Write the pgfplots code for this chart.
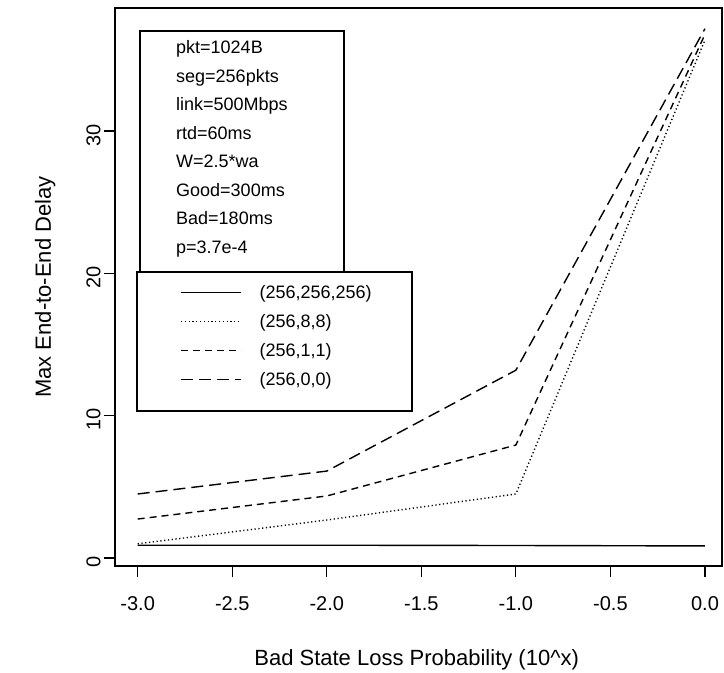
\documentclass[border=0pt]{standalone}
\usepackage{fontspec}
\setmainfont{Liberation Sans}
\usepackage{pgfplots}
\pgfplotsset{compat=1.18}
\begin{document}
\begin{tikzpicture}
\begin{axis}[
  at={(115pt,107pt)}, anchor=south west,
  width=607pt, height=558pt, scale only axis,
  xmin=-3.12, xmax=0.09, ymin=-0.56, ymax=38.65,
  axis line style={line width=1.2pt},
  xtick={-3,-2.5,-2,-1.5,-1,-0.5,0},
  xticklabels={-3.0,-2.5,-2.0,-1.5,-1.0,-0.5,0.0},
  ytick={0,10,20,30}, yticklabels={0,10,20,30},
  tick align=outside, major tick length=11pt,
  tick pos=left,
  tick style={line width=1.2pt, black},
  ticklabel style={font=\fontsize{20}{24}\selectfont},
  xticklabel style={anchor=north, yshift=-16pt},
  yticklabel style={rotate=90, anchor=south, xshift=-4pt},
  xlabel={Bad State Loss Probability (10\^{}x)},
  ylabel={Max End-to-End Delay},
  label style={font=\fontsize{22}{26}\selectfont},
  xlabel style={at={(axis description cs:0.497,-0.168)}, anchor=center},
  ylabel style={at={(axis description cs:-0.115,0.5)}, anchor=center},
  legend image code/.code={\draw[#1] (0pt,0pt) -- (60pt,0pt);},
  legend cell align=left,
  legend style={draw=none, fill=none, at={(axis description cs:0.1071,0.5036)}, anchor=north west,
    inner sep=0pt, row sep=14.5pt, font=\fontsize{18}{21}\selectfont,
    nodes={inner sep=0pt},
    /tikz/every odd column/.append style={column sep=18pt}},
]
\addplot[black, line width=1.4pt] coordinates {(-3,0.9) (-2,0.9) (-1,0.88) (0,0.85)};
\addlegendentry{(256,256,256)}
\addplot[black, line width=1.4pt, dash pattern=on 1.2pt off 2.6pt] coordinates {(-3,1.0) (-2,2.67) (-1,4.5) (0,36.4)};
\addlegendentry{(256,8,8)}
\addplot[black, line width=1.4pt, dash pattern=on 7pt off 5pt] coordinates {(-3,2.74) (-2,4.36) (-1,7.94) (0,36.8)};
\addlegendentry{(256,1,1)}
\addplot[black, line width=1.4pt, dash pattern=on 12pt off 6pt] coordinates {(-3,4.5) (-2,6.11) (-1,13.2) (0,37.2)};
\addlegendentry{(256,0,0)}
\end{axis}
\draw[line width=1.2pt] (140pt,642pt) rectangle (344pt,401pt);
\draw[line width=1.2pt] (137pt,401pt) rectangle (412pt,262pt);
\begin{scope}[every node/.style={anchor=base west, inner sep=0pt, font=\fontsize{18}{21}\selectfont}]
\node at (176pt,619pt) {pkt=1024B};
\node at (176pt,590pt) {seg=256pkts};
\node at (176pt,562pt) {link=500Mbps};
\node at (176pt,533pt) {rtd=60ms};
\node at (176pt,505pt) {W=2.5*wa};
\node at (176pt,476pt) {Good=300ms};
\node at (176pt,448pt) {Bad=180ms};
\node at (176pt,419pt) {p=3.7e-4};
\end{scope}
\pgfresetboundingbox
\path[use as bounding box] (0,0) rectangle (724pt,673pt);
\end{tikzpicture}
\end{document}
